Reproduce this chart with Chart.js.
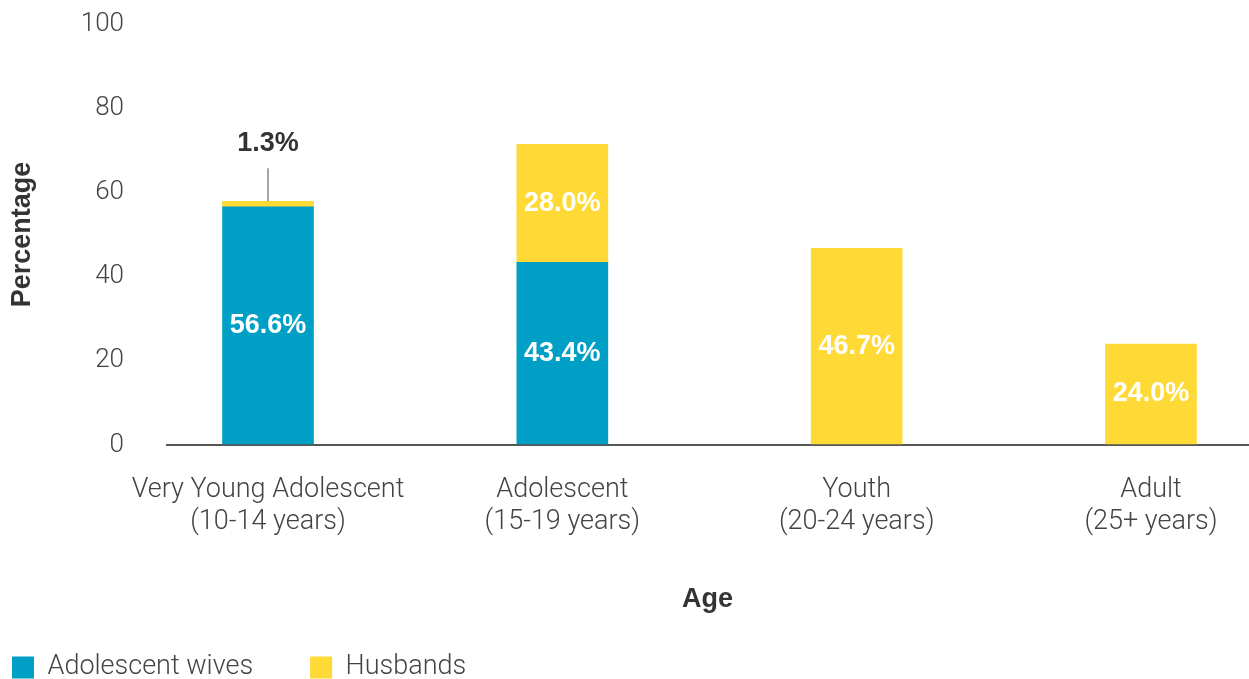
<!DOCTYPE html>
<html>
<head>
<meta charset="utf-8">
<script src="https://cdn.jsdelivr.net/npm/chart.js@4.4.1/dist/chart.umd.min.js"></script>
<style>
    html, body { margin: 0; padding: 0; background: #fff; overflow: hidden; }
    .chart-container { position: relative; width: 1249px; height: 691px; }
</style>
</head>
<body>
<div class="chart-container">
    <canvas id="ageChart"></canvas>
</div>
<script>
// age groups and percentage of each group, by spouse
const categories = [
    ['Very Young Adolescent', '(10-14 years)'],
    ['Adolescent', '(15-19 years)'],
    ['Youth', '(20-24 years)'],
    ['Adult', '(25+ years)']
];
const wives = [56.6, 43.4, null, null];
const husbands = [1.3, 28.0, 46.7, 24.0];
const yTicks = [0, 20, 40, 60, 80, 100];

const BLUE = '#009FC6';
const YELLOW = '#FFDA36';
const LIGHT = '"Helvetica Neue", Roboto, "Liberation Sans", Arial, sans-serif';
const BOLD = '"Helvetica Neue", "Liberation Sans", Arial, sans-serif';

function toPoints(values) {
    return values
        .map((v, i) => ({ x: i, y: v }))
        .filter(p => p.y !== null);
}

// value labels: white inside the bar, or above it with a leader line when the slice is thin
const barLabels = {
    id: 'barLabels',
    afterDatasetsDraw(chart) {
        const ctx = chart.ctx;
        ctx.save();
        ctx.font = 'bold 27px ' + BOLD;
        ctx.textAlign = 'center';
        ctx.textBaseline = 'middle';
        chart.data.datasets.forEach((ds, i) => {
            const meta = chart.getDatasetMeta(i);
            meta.data.forEach((bar, j) => {
                const v = ds.data[j].y;
                const text = v.toFixed(1) + '%';
                if (v < 5) {
                    ctx.strokeStyle = '#8a8a8a';
                    ctx.lineWidth = 1.5;
                    ctx.beginPath();
                    ctx.moveTo(bar.x, bar.y);
                    ctx.lineTo(bar.x, bar.y - 33);
                    ctx.stroke();
                    ctx.fillStyle = '#333';
                    ctx.fillText(text, bar.x, bar.y - 58);
                } else {
                    ctx.fillStyle = '#fff';
                    ctx.fillText(text, bar.x, (bar.y + bar.base) / 2);
                }
            });
        });
        ctx.restore();
    }
};

new Chart(document.getElementById('ageChart'), {
    type: 'bar',
    data: {
        datasets: [
            { label: 'Adolescent wives', data: toPoints(wives), backgroundColor: BLUE },
            { label: 'Husbands', data: toPoints(husbands), backgroundColor: YELLOW }
        ]
    },
    options: {
        responsive: true,
        maintainAspectRatio: false,
        animation: false,
        barThickness: 91,
        layout: { padding: { top: 24, right: 0, bottom: 0, left: -45 } },
        plugins: {
            tooltip: { enabled: false },
            legend: {
                position: 'bottom',
                align: 'start',
                labels: {
                    boxWidth: 22,
                    boxHeight: 22,
                    padding: 57,
                    color: '#444',
                    font: { family: LIGHT, size: 27, weight: 300 }
                }
            }
        },
        scales: {
            x: {
                type: 'linear',
                stacked: true,
                offset: false,
                min: -0.3466,
                max: 3.333,
                grid: { display: false },
                border: { display: false },
                afterBuildTicks(scale) {
                    scale.ticks = categories.map((c, i) => ({ value: i }));
                },
                afterFit(scale) {
                    scale.height = 152;
                },
                ticks: {
                    autoSkip: false,
                    maxRotation: 0,
                    padding: 21,
                    color: '#444',
                    font: { family: LIGHT, size: 27, weight: 300, lineHeight: '32px' },
                    callback: v => categories[v]
                },
                title: {
                    display: true,
                    text: 'Age',
                    color: '#333',
                    padding: { top: 0, bottom: -19 },
                    font: { family: BOLD, size: 27, weight: 'bold' }
                }
            },
            y: {
                stacked: true,
                min: 0,
                max: 100,
                afterBuildTicks(scale) {
                    scale.ticks = yTicks.map(v => ({ value: v }));
                },
                afterFit(scale) {
                    scale.width = 211;
                },
                grid: {
                    drawTicks: true,
                    tickLength: 42,
                    tickColor: 'rgba(0,0,0,0)',
                    lineWidth: 2,
                    color: c => c.tick && c.tick.value === 0 ? '#555' : 'rgba(0,0,0,0)'
                },
                border: { display: false },
                ticks: {
                    padding: 0,
                    color: '#444',
                    font: { family: LIGHT, size: 26, weight: 300 }
                },
                title: {
                    display: true,
                    text: 'Percentage',
                    color: '#333',
                    padding: { top: 51, bottom: 0 },
                    font: { family: BOLD, size: 27, weight: 'bold' }
                }
            }
        }
    },
    plugins: [barLabels]
});
</script>
</body>
</html>
